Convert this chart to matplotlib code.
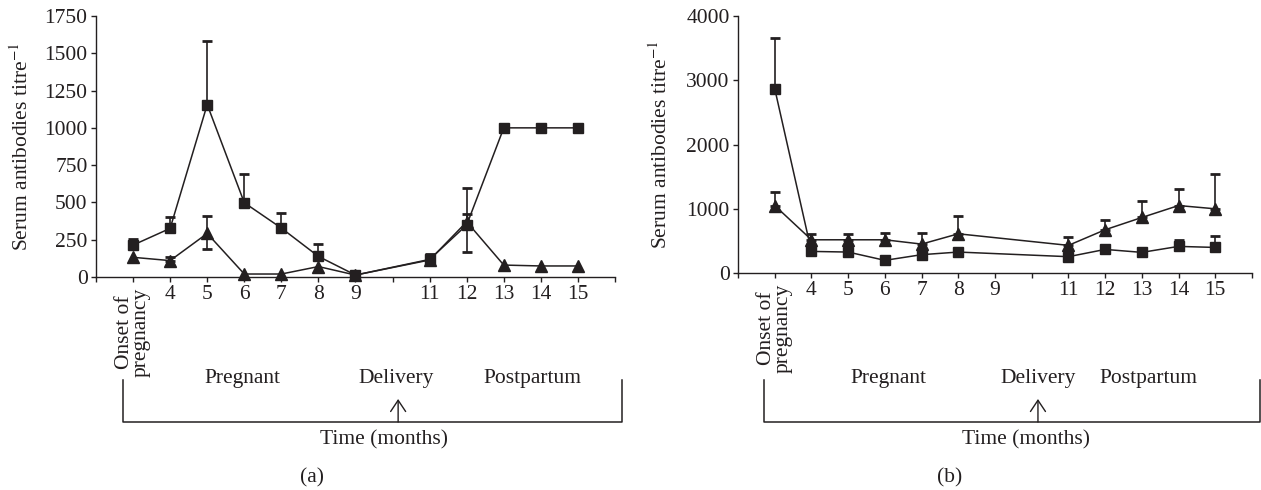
import numpy as np
import matplotlib
matplotlib.use("Agg")
from matplotlib import pyplot as plt
from matplotlib import transforms

plt.rcParams['font.family'] = ['Liberation Serif', 'DejaVu Serif']
plt.rcParams['mathtext.fontset'] = 'stix'

INK = '#231f20'
FS = 15.5

# panel (a)
months_a = [3, 4, 5, 6, 7, 8, 9, 11, 12, 13, 14, 15]
sq_a = [214, 326, 1156, 498, 328, 138, 13, 118, 349, 1000, 1000, 1000]
sq_a_up = [38, 76, 424, 194, 103, 83, 0, 36, 248, 0, 0, 0]
sq_a_dn = [0, 0, 0, 0, 0, 0, 0, 0, 0, 0, 0, 0]
tri_a = [132, 110, 292, 20, 20, 70, 13, 114, 370, 80, 74, 74]
tri_a_up = [0, 25, 116, 0, 0, 0, 0, 0, 52, 0, 0, 0]
tri_a_dn = [0, 0, 107, 0, 0, 0, 0, 0, 200, 0, 0, 0]

# panel (b)
months_b = [3, 4, 5, 6, 7, 8, 11, 12, 13, 14, 15]
sq_b = [2870, 336, 326, 197, 285, 326, 254, 367, 321, 414, 398]
sq_b_up = [794, 0, 0, 0, 0, 0, 0, 25, 30, 103, 182]
tri_b = [1050, 517, 517, 517, 450, 610, 430, 673, 864, 1050, 999]
tri_b_up = [218, 88, 88, 103, 170, 270, 124, 155, 254, 264, 543]

tick_pos = list(range(2, 17))
tick_lab = ['', '', '4', '5', '6', '7', '8', '9', '', '11', '12', '13', '14', '15', '']

W, H = 1261, 490
fig = plt.figure(figsize=(W / 100, H / 100), dpi=100)


def px_axes(l, t, r, b):
    return fig.add_axes([l / W, 1 - b / H, (r - l) / W, (b - t) / H])


def draw_series(ax, x, y, up, dn, marker, ms):
    x = np.asarray(x, float)
    y = np.asarray(y, float)
    up = np.asarray(up, float)
    dn = np.asarray(dn, float)
    has = (up > 0) | (dn > 0)
    ax.errorbar(x[has], y[has], yerr=[dn[has], up[has]], fmt='none',
                ecolor=INK, elinewidth=1.2, capsize=3.4, capthick=2.0, zorder=2)
    ax.plot(x, y, color=INK, lw=1.1, marker=marker, ms=ms,
            mfc=INK, mec=INK, zorder=3, clip_on=False)


def style_axes(ax, ymax, ystep):
    for s in ['top', 'right']:
        ax.spines[s].set_visible(False)
    for s in ['left', 'bottom']:
        ax.spines[s].set_color(INK)
        ax.spines[s].set_linewidth(1.0)
    ax.set_xlim(2, 16)
    ax.set_ylim(0, ymax)
    ax.set_yticks(np.arange(0, ymax + 1, ystep))
    ax.set_xticks(tick_pos)
    ax.set_xticklabels(tick_lab)
    ax.tick_params(direction='out', length=3.5, width=1.0, colors=INK,
                   labelsize=FS, pad=2.5)
    ax.set_ylabel('Serum antibodies titre$^{-1}$', fontsize=FS, color=INK)
    ax.text(3, -0.04, 'Onset of\npregnancy', rotation=90, ha='center',
            va='top', ma='center', fontsize=FS, color=INK, linespacing=0.8,
            transform=transforms.blended_transform_factory(ax.transData, ax.transAxes))


def bottom_notes(ax, left, right, arrow, preg, deliv, post, tlab, plab, panel):
    tr = transforms.blended_transform_factory(ax.transData, fig.transFigure)
    fy = lambda v: 1 - v / H
    ax.plot([left, left, right, right], [fy(380), fy(422), fy(422), fy(380)],
            color=INK, lw=1.1, transform=tr, clip_on=False)
    ax.annotate('', xy=(arrow, fy(399)), xytext=(arrow, fy(422)),
                xycoords=tr, textcoords=tr,
                arrowprops=dict(arrowstyle='->,head_length=0.45,head_width=0.3',
                                color=INK, lw=1.0,
                                shrinkA=0, shrinkB=0, mutation_scale=18))
    for x, s in [(preg, 'Pregnant'), (deliv, 'Delivery'), (post, 'Postpartum')]:
        ax.text(x, fy(378), s, ha='center', va='center', fontsize=FS,
                color=INK, transform=tr)
    ax.text(tlab, fy(440), 'Time (months)', ha='center', va='center',
            fontsize=FS, color=INK, transform=tr)
    ax.text(plab, fy(478), panel, ha='center', va='center',
            fontsize=FS, color=INK, transform=tr)


ax1 = px_axes(96, 16, 615, 277)
draw_series(ax1, months_a, sq_a, sq_a_up, sq_a_dn, 's', 7.5)
draw_series(ax1, months_a, tri_a, tri_a_up, tri_a_dn, '^', 8)
style_axes(ax1, 1750, 250)
ax1.yaxis.set_label_coords(-0.122, 0.5)
bottom_notes(ax1, 2.73, 16.19, 10.15, 5.94, 10.09, 13.76, 9.77, 7.83, '(a)')

ax2 = px_axes(738, 16, 1252, 273)
draw_series(ax2, months_b, sq_b, sq_b_up, [0] * len(sq_b), 's', 7.5)
draw_series(ax2, months_b, tri_b, tri_b_up, [0] * len(tri_b), '^', 8)
style_axes(ax2, 4000, 1000)
ax2.yaxis.set_label_coords(-0.128, 0.5)
bottom_notes(ax2, 2.71, 16.22, 10.17, 6.09, 10.17, 13.17, 9.84, 7.77, '(b)')

fig.savefig('out.png', dpi=100)
